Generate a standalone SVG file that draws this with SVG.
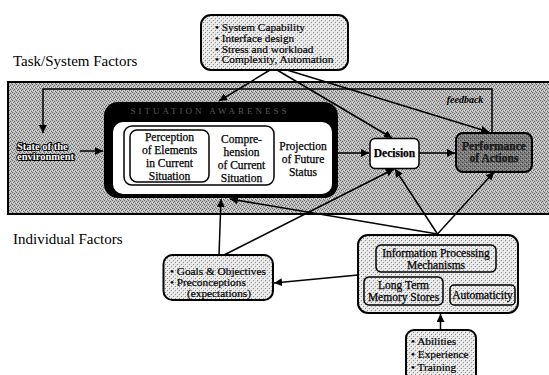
<svg xmlns="http://www.w3.org/2000/svg" width="549" height="375" viewBox="0 0 549 375">
<style>
.t{font-family:"Liberation Serif","Times New Roman",serif;fill:#000;}
.lbl{font-size:11.5px;text-anchor:middle;stroke:#000;stroke-width:0.25;}
.bul{font-size:11.3px;stroke:#000;stroke-width:0.2;}
.fac{font-size:15px;}
.box{stroke:#000;stroke-width:2;}
.in{fill:none;stroke:#000;stroke-width:1.5;}
.con{fill:none;stroke:#000;stroke-width:1.5;marker-end:url(#ah);}
</style>
<defs>
<pattern id="pBand" width="4" height="4" patternUnits="userSpaceOnUse">
<rect width="4" height="4" fill="#bdbdbd"/>
<rect x="0" y="0" width="1" height="1" fill="#6a6a6a"/>
<rect x="2" y="1" width="1" height="1" fill="#6a6a6a"/>
<rect x="1" y="2" width="1" height="1" fill="#6a6a6a"/>
<rect x="3" y="3" width="1" height="1" fill="#6a6a6a"/>
<rect x="2" y="3" width="1" height="1" fill="#e0e0e0"/>
<rect x="0" y="2" width="1" height="1" fill="#e0e0e0"/>
</pattern>
<pattern id="pLight" width="4" height="4" patternUnits="userSpaceOnUse">
<rect width="4" height="4" fill="#e6e6e6"/>
<rect x="1" y="0" width="1" height="1" fill="#8a8a8a"/>
<rect x="3" y="2" width="1" height="1" fill="#8a8a8a"/>
<rect x="0" y="3" width="1" height="1" fill="#ffffff"/>
<rect x="2" y="1" width="1" height="1" fill="#ffffff"/>
</pattern>
<pattern id="pDark" width="4" height="4" patternUnits="userSpaceOnUse">
<rect width="4" height="4" fill="#7a7a7a"/>
<rect x="0" y="0" width="1" height="1" fill="#444"/>
<rect x="2" y="2" width="1" height="1" fill="#444"/>
<rect x="3" y="0" width="1" height="1" fill="#a8a8a8"/>
<rect x="1" y="3" width="1" height="1" fill="#a8a8a8"/>
</pattern>
<marker id="ah" viewBox="0 0 10 10" refX="10" refY="5" markerWidth="8" markerHeight="8" markerUnits="userSpaceOnUse" orient="auto">
<path d="M0,0 L10,5 L0,10 z" fill="#000"/>
</marker>
</defs>
<rect width="549" height="375" fill="#fff"/>

<g id="environment-band">
<rect x="8" y="82" width="545" height="132" fill="url(#pBand)" stroke="#000" stroke-width="2"/>
</g>
<text class="t fac" x="13" y="66">Task/System Factors</text>
<text class="t fac" x="13" y="244">Individual Factors</text>

<g id="task-system-factors">
<rect class="box" x="201" y="15" width="147" height="55" rx="10" fill="url(#pLight)"/>
<text class="t bul" x="215" y="31">• System Capability</text>
<text class="t bul" x="215" y="42">• Interface design</text>
<text class="t bul" x="215" y="52.5">• Stress and workload</text>
<text class="t bul" x="215" y="63">• Complexity, Automation</text>
</g>

<g id="state">
<text class="t" x="17" y="149.5" font-size="10.5" font-weight="bold" stroke="#000" stroke-width="2" paint-order="stroke" style="fill:#fff">State of the</text>
<text class="t" x="17" y="160" font-size="10.5" font-weight="bold" stroke="#000" stroke-width="2" paint-order="stroke" style="fill:#fff">environment</text>
</g>

<g id="situation-awareness">
<rect x="104" y="102" width="234" height="96" rx="14" fill="#000"/>
<text class="t" x="210" y="114" font-size="9" text-anchor="middle" letter-spacing="3" style="fill:#5a5a5a">SITUATION AWARENESS</text>
<rect x="113" y="122" width="219" height="72" rx="10" fill="#fff"/>
<rect class="in" x="124" y="126" width="150" height="59" rx="8"/>
<rect class="in" x="130" y="130" width="79" height="52" rx="7"/>
<text class="t lbl" x="169.5" y="141">Perception</text>
<text class="t lbl" x="169.5" y="154">of Elements</text>
<text class="t lbl" x="169.5" y="167">in Current</text>
<text class="t lbl" x="169.5" y="180">Situation</text>
<text class="t lbl" x="241.5" y="143">Compre-</text>
<text class="t lbl" x="241.5" y="156">hension</text>
<text class="t lbl" x="241.5" y="169">of Current</text>
<text class="t lbl" x="241.5" y="181.5">Situation</text>
<text class="t lbl" x="303" y="150">Projection</text>
<text class="t lbl" x="303" y="163">of Future</text>
<text class="t lbl" x="303" y="176">Status</text>
</g>

<g id="decision">
<rect x="370" y="138.5" width="49" height="30" rx="5" fill="#fff" stroke="#000" stroke-width="1.5"/>
<text class="t lbl" x="394.5" y="157" font-weight="bold">Decision</text>
</g>

<g id="performance">
<rect class="box" x="456" y="133" width="76" height="39" rx="7" fill="url(#pDark)"/>
<text class="t lbl" x="494" y="150" font-weight="bold" style="fill:#222">Performance</text>
<text class="t lbl" x="494" y="162" font-weight="bold" style="fill:#222">of Actions</text>
</g>

<text class="t" x="465" y="103" font-size="10" font-weight="bold" font-style="italic" text-anchor="middle">feedback</text>

<g id="goals">
<rect class="box" x="163.5" y="255" width="109.5" height="45" rx="9" fill="url(#pLight)"/>
<text class="t bul" x="170" y="275" font-size="11.8">• Goals &amp; Objectives</text>
<text class="t bul" x="170" y="286" font-size="11.8">• Preconceptions</text>
<text class="t bul" x="187" y="297" font-size="11.8">(expectations)</text>
</g>

<g id="information-processing">
<rect class="box" x="358" y="235" width="160" height="78" rx="10" fill="url(#pLight)"/>
<rect class="in" x="376" y="245" width="120" height="27" rx="5"/>
<text class="t lbl" x="436" y="257" font-size="11">Information Processing</text>
<text class="t lbl" x="436" y="268.5" font-size="11">Mechanisms</text>
<rect class="in" x="364" y="277" width="79" height="28" rx="5"/>
<text class="t lbl" x="403.5" y="289" font-size="11">Long Term</text>
<text class="t lbl" x="403.5" y="301" font-size="11">Memory Stores</text>
<rect class="in" x="450" y="285" width="65" height="20" rx="4"/>
<text class="t lbl" x="482.5" y="299" font-size="11">Automaticity</text>
</g>

<g id="abilities">
<rect class="box" x="406" y="330" width="70" height="55" rx="8" fill="url(#pLight)"/>
<text class="t bul" x="411" y="345">• Abilities</text>
<text class="t bul" x="411" y="358">• Experience</text>
<text class="t bul" x="411" y="371">• Training</text>
</g>

<g id="connectors">
<polyline class="con" points="492,133 492,89 43,89 43,133" stroke-width="2"/>
<line class="con" x1="80" y1="151" x2="103" y2="151"/>
<line class="con" x1="338" y1="153" x2="369" y2="153"/>
<line class="con" x1="419" y1="153" x2="455" y2="153"/>
<line class="con" x1="270" y1="70" x2="219" y2="101"/>
<line class="con" x1="277" y1="70" x2="392" y2="138"/>
<line class="con" x1="287" y1="70" x2="489" y2="132"/>
<line class="con" x1="440.5" y1="330" x2="440.5" y2="314"/>
<line class="con" x1="437.5" y1="234" x2="395" y2="169"/>
<line class="con" x1="437.5" y1="234" x2="494" y2="172"/>
<line class="con" x1="437.5" y1="234" x2="230" y2="199"/>
<line class="con" x1="219" y1="255" x2="221" y2="199"/>
<line class="con" x1="224" y1="255" x2="394" y2="169"/>
<line class="con" x1="358" y1="275" x2="274" y2="283"/>
</g>
</svg>
